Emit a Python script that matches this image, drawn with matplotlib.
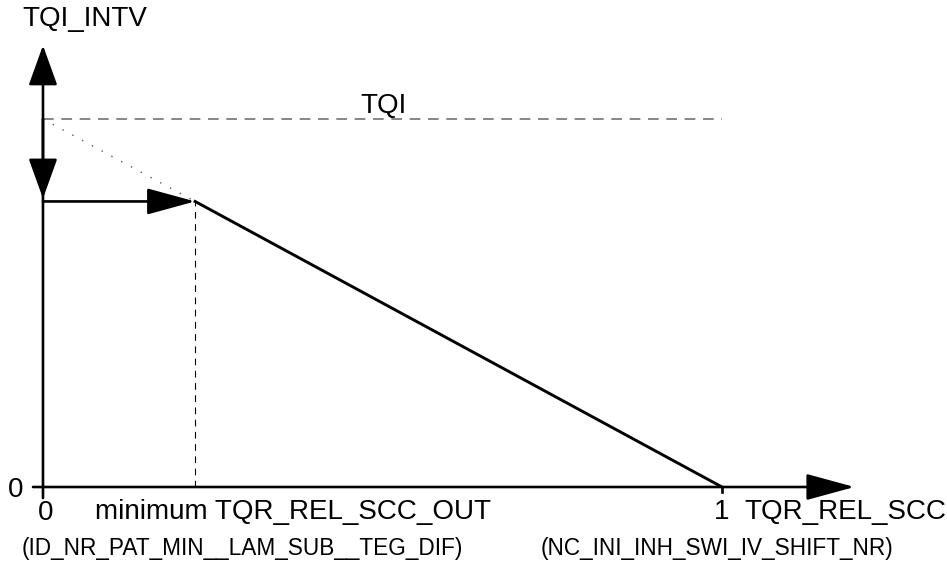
import numpy as np
import matplotlib.pyplot as plt

plt.rcParams["font.family"] = ["Liberation Sans", "DejaVu Sans"]

# Valeurs relatives du schema (axe x: TQR_REL_SCC, axe y: TQI_INTV)
x_min = 0.224          # minimum TQR_REL_SCC_OUT
x_one = 1.0            # NC_INI_INH_SWI_IV_SHIFT_NR
tqi = 1.0              # niveau TQI
tqi_intv_min = tqi * (1.0 - x_min)

x_labels = ["0", "minimum TQR_REL_SCC_OUT", "1", "TQR_REL_SCC"]
sub_labels = ["(ID_NR_PAT_MIN__LAM_SUB__TEG_DIF)", "(NC_INI_INH_SWI_IV_SHIFT_NR)"]

fig = plt.figure(figsize=(9.47, 5.61), dpi=100)
ax = fig.add_axes([0, 0, 1, 1])
ax.set_xlim(-0.0633, 1.3314)
ax.set_ylim(-0.2011, 1.3234)
ax.axis("off")


def arrow(x0, y0, x1, y1, hl, hw, lw=1.9):
    ax.annotate("", xy=(x1, y1), xytext=(x0, y0),
                arrowprops=dict(arrowstyle=f"-|>,head_length={hl},head_width={hw}",
                                lw=lw, color="black", shrinkA=0, shrinkB=0,
                                mutation_scale=10))


# axes
arrow(-0.0147, 0, 1.195, 0, 3.0, 0.82)
arrow(0, -0.03, 0, 1.2, 2.5, 0.9)
# fleche vers le bas (TQI -> TQI_INTV min)
arrow(0, tqi, 0, tqi_intv_min + 0.008, 2.5, 0.9)
# fleche horizontale
arrow(0, tqi_intv_min, x_min, tqi_intv_min, 3.0, 0.82)

# ligne TQI
ax.plot([0, x_one], [tqi, tqi], color="#666666", lw=1.1, dashes=(7, 5))
# pointille vers TQI
ax.plot([0, x_min], [tqi, tqi_intv_min], color="#555555", lw=1.0, dashes=(1, 7))
# droite de reduction
ax.plot([x_min, x_one], [tqi_intv_min, 0], color="black", lw=2.1)
# verticale minimum
ax.plot([x_min, x_min], [0, tqi_intv_min], color="black", lw=0.8, dashes=(6, 5))
# tick a 1
ax.plot([x_one, x_one], [0, -0.014], color="black", lw=1.9)

fs = 20
ax.text(-0.031, 1.271, "TQI_INTV", fontsize=fs, ha="left", va="center")
ax.text(0.502, 1.035, "TQI", fontsize=fs, ha="center", va="center")
ax.text(-0.040, -0.008, "0", fontsize=fs, ha="center", va="center")
ax.text(0.004, -0.07, x_labels[0], fontsize=fs, ha="center", va="center")
ax.text(0.0766, -0.068, x_labels[1], fontsize=fs, ha="left", va="center")
ax.text(x_one, -0.068, x_labels[2], fontsize=fs, ha="center", va="center")
ax.text(1.033, -0.068, x_labels[3], fontsize=fs, ha="left", va="center")
ax.text(0.293, -0.1848, sub_labels[0], fontsize=16.3, ha="center", va="baseline")
ax.text(0.993, -0.1848, sub_labels[1], fontsize=16.3, ha="center", va="baseline")

fig.savefig("out.png", dpi=100)
